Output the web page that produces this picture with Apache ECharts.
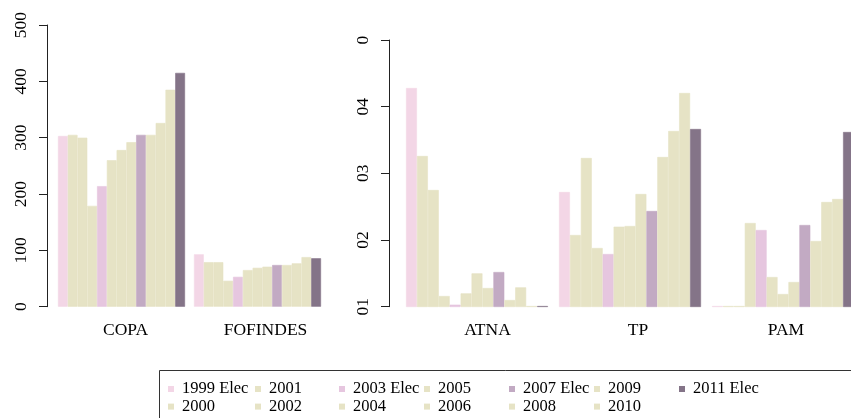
<!DOCTYPE html>
<html>
<head>
<meta charset="utf-8">
<script src="https://cdn.jsdelivr.net/npm/echarts@6/dist/echarts.min.js"></script>
<style>html,body{margin:0;padding:0;background:#fff}#c{width:851px;height:418px}</style>
</head>
<body>
<div id="c"></div>
<script>
const seriesNames = ['1999 Elec','2000','2001','2002','2003 Elec','2004','2005','2006','2007 Elec','2008','2009','2010','2011 Elec'];
const leftCategories = ['COPA','FOFINDES'];
const rightCategories = ['ATNA','TP','PAM'];
const copaValues     = [303,305,300,179,214,260,278,292,305,305,326,385,415];
const fofindesValues = [93,79,79,46,53,65,69,71,74,74,77,88,86];
const atnaValues = [42.8,32.6,27.5,11.6,10.3,12.0,15.0,12.8,15.2,11.0,12.9,10.1,10.1];
const tpValues   = [27.2,20.75,32.3,18.8,17.9,22.0,22.1,26.9,24.35,32.45,36.35,42.05,36.65];
const pamValues  = [10.1,10.1,10.1,22.55,21.5,14.45,11.9,13.7,22.25,19.85,25.7,26.15,36.2];
const leftTickLabels  = ['0','100','200','300','400','500'];
const rightTickLabels = ['01','02','03','04','0'];

const BEIGE = '#e6e3c5';
const colors = ['#f3d6e6',BEIGE,BEIGE,BEIGE,'#e6c6df',BEIGE,BEIGE,BEIGE,'#c2aac3',BEIGE,BEIGE,BEIGE,'#847488'];
const FONT = 'Liberation Serif';

const chart = echarts.init(document.getElementById('c'), null, {renderer:'canvas'});

const series = [];
seriesNames.forEach((n,i)=>{
  const st = {color:colors[i],borderColor:colors[i],borderWidth:0.6};
  series.push({name:n,type:'bar',xAxisIndex:0,yAxisIndex:0,data:[copaValues[i],fofindesValues[i]],
    itemStyle:st,barGap:'0%',barCategoryGap:'6.6%',animation:false,silent:true});
  series.push({name:n,type:'bar',xAxisIndex:1,yAxisIndex:1,data:[atnaValues[i],tpValues[i],pamValues[i]],
    itemStyle:st,barGap:'0%',barCategoryGap:'7.2%',animation:false,silent:true,clip:true});
});

const legendCols = [['1999 Elec','2000'],['2001','2002'],['2003 Elec','2004'],['2005','2006'],['2007 Elec','2008'],['2009','2010'],['2011 Elec']];
const legendX = [168,255,339,424,509,594,679];
const legends = legendCols.map((d,k)=>({
  data:d, orient:'vertical', left:legendX[k], top:380.5, padding:0,
  itemWidth:6, itemHeight:6, icon:'rect', itemGap:0.6, selectedMode:false,
  itemStyle:{borderWidth:0},
  textStyle:{fontFamily:FONT,fontSize:16.5,color:'#000',lineHeight:16,padding:[0,0,0,3]}
}));

const axisLabelBase = {fontFamily:FONT,fontSize:17.5,color:'#000'};
const tok = (p)=>({fontFamily:FONT,fontSize:17.5,color:'#000',padding:[0,0,0,p]});

chart.setOption({
  animation:false,
  legend:legends,
  grid:[
    {left:53.5,top:25,width:272,height:281.7,outerBoundsMode:'none',containLabel:false},
    {left:400.5,top:40,width:459,height:266.7,outerBoundsMode:'none',containLabel:false}
  ],
  xAxis:[
    {type:'category',gridIndex:0,data:leftCategories,axisLine:{show:false},axisTick:{show:false},
     axisLabel:Object.assign({margin:15,interval:0,hideOverlap:false,formatter:(v,i)=>'{c'+i+'|'+v+'}',rich:{c0:tok(8),c1:tok(16)}},axisLabelBase)},
    {type:'category',gridIndex:1,data:rightCategories,axisLine:{show:false},axisTick:{show:false},
     axisLabel:Object.assign({margin:15,interval:0,hideOverlap:false,formatter:(v,i)=>'{c'+i+'|'+v+'}',rich:{c0:tok(21),c1:tok(16),c2:tok(6)}},axisLabelBase)}
  ],
  yAxis:[
    {type:'value',gridIndex:0,min:0,max:500,interval:100,offset:6.5,splitLine:{show:false},
     axisLine:{show:true,lineStyle:{color:'#222',width:1}},
     axisTick:{show:true,length:8,lineStyle:{color:'#222'}},
     axisLabel:Object.assign({rotate:90,margin:17,formatter:(v)=>leftTickLabels[Math.round(v/100)]},axisLabelBase)},
    {type:'value',gridIndex:1,min:10,max:50,interval:10,offset:11.5,splitLine:{show:false},
     axisLine:{show:true,lineStyle:{color:'#222',width:1}},
     axisTick:{show:true,length:8,lineStyle:{color:'#222'}},
     axisLabel:Object.assign({rotate:90,margin:17,formatter:(v)=>rightTickLabels[Math.round(v/10)-1]},axisLabelBase)}
  ],
  graphic:[{type:'rect',shape:{x:159.5,y:370.5,width:800,height:100},style:{fill:'none',stroke:'#333',lineWidth:1},silent:true}],
  series:series
});
</script>
</body>
</html>
